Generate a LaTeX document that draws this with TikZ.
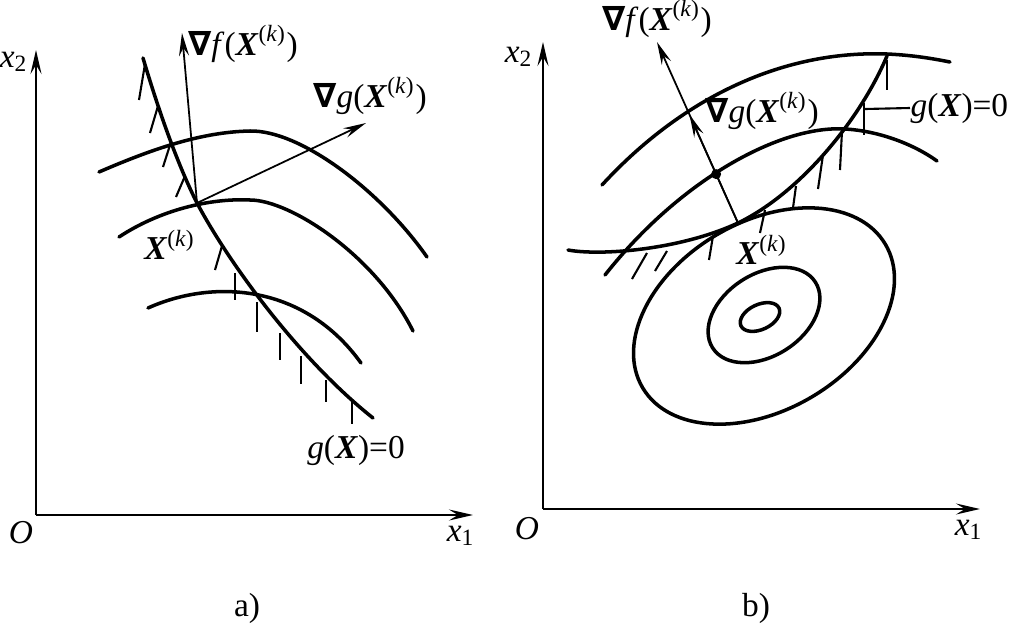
\documentclass[tikz,border=0pt]{standalone}
\usepackage{fontspec}
\setmainfont{Liberation Serif}
\newfontfamily\djv{DejaVu Sans}
\usetikzlibrary{arrows.meta,calc}
\newcommand{\Xk}{\textbf{\textit{X}}\textsuperscript{(\textit{k})}}
\newcommand{\Nab}{{\djv\bfseries ∇}}
\begin{document}
\begin{tikzpicture}[x=0.01cm,y=-0.01cm,
  axis/.style={line width=0.6pt,-{Stealth[length=2.4mm,width=1.1mm,inset=0.9mm]}},
  thickc/.style={line width=1pt,line cap=round},
  hatchl/.style={line width=0.6pt},
  garrow/.style={line width=0.5pt,-{Stealth[length=2.3mm,width=1.0mm,inset=0.8mm]}},
  lbl/.style={inner sep=0pt,font=\fontsize{9.5}{11}\selectfont}]
\useasboundingbox (0,0) rectangle (1011,624);
% ---------------- panel a ----------------
\coordinate (Oa) at (36,515);
\coordinate (xa) at (473,515);
\coordinate (ya) at (36,50);
\draw[axis] (Oa) -- (xa);
\draw[axis] (Oa) -- (ya);
\node[lbl] (Olbla) at (21,533) {\textit{O}};
\node[lbl] (x1a) at (461,536) {\textit{x}\textsubscript{1}};
\node[lbl] (x2a) at (14,62) {\textit{x}\textsubscript{2}};
\node[lbl] (capa) at (247,608) {a)};
% level curves
\draw[thickc] (99,172) .. controls (150,150) and (200,132) .. (250,131)
  .. controls (300,130) and (380,190) .. (427,257);
\draw[thickc] (119,237) .. controls (160,210) and (210,198) .. (250,200)
  .. controls (290,200) and (375,255) .. (413,331);
\draw[thickc] (148,308) .. controls (215,278) and (305,285) .. (361,363);
% constraint
\draw[thickc] (143,58) .. controls (160,115) and (178,165) .. (197,203)
  .. controls (230,265) and (300,360) .. (373,418);
% hatches
\foreach \a/\b in {{(145,64)}/{(139,100)},{(158,106)}/{(150,133)},{(171,142)}/{(163,167)},{(185,176)}/{(176,197)},{(222,246)}/{(215,270)},
  {(235,273)}/{(235,300)},{(257,302)}/{(257,332)},{(280,333)}/{(280,360)},{(301,356)}/{(301,384)},{(326,380)}/{(326,402)},{(352,401)}/{(352,424)}}
  \draw[hatchl] \a -- \b;
% gradients
\coordinate (Xka) at (197,203);
\coordinate (fta) at (182,33);
\coordinate (gta) at (366,123);
\draw[garrow] (Xka) -- (fta);
\draw[garrow] (Xka) -- (gta);
\node[lbl] (flbla) at (243,44) {\Nab\textit{f}(\Xk)};
\node[lbl] (glbla) at (370,96) {\Nab\textit{g}(\Xk)};
\node[lbl] (Xlbla) at (170,245) {\Xk};
\node[lbl] (gXa) at (356,450) {\textit{g}(\textbf{\textit{X}})=0};
% ---------------- panel b ----------------
\coordinate (Ob) at (543,509);
\coordinate (xb) at (980,509);
\coordinate (yb) at (543,42);
\draw[axis] (Ob) -- (xb);
\draw[axis] (Ob) -- (yb);
\node[lbl] (Olblb) at (527,529) {\textit{O}};
\node[lbl] (x1b) at (969,530) {\textit{x}\textsubscript{1}};
\node[lbl] (x2b) at (519,57) {\textit{x}\textsubscript{2}};
\node[lbl] (capb) at (756,608) {b)};
% ellipses
\draw[thickc,rotate around={30.6:(764,316)}] (764,316) ellipse [x radius=141,y radius=94];
\draw[thickc,rotate around={32.7:(764,315)}] (764,315) ellipse [x radius=61,y radius=41];
\draw[thickc,rotate around={25:(760,317)}] (760,317) ellipse [x radius=21,y radius=12.5];
% level arcs
\draw[thickc] (602,185) .. controls (680,100) and (780,50) .. (887,54)
  .. controls (910,55) and (930,58) .. (950,62);
\draw[thickc] (605,275) .. controls (680,180) and (780,125) .. (845,129)
  .. controls (880,131) and (915,145) .. (937,161);
% constraint
\coordinate (Xkb) at (738,223);
\draw[thickc] (568,250) .. controls (600,256) and (680,250) .. (Xkb)
  .. controls (800,193) and (860,120) .. (887,56);
\foreach \a/\b in {{(647,253)}/{(632,279)},{(667,251)}/{(655,271)},{(713,236)}/{(709,260)},{(765,210)}/{(760,233)},{(796,186)}/{(793,208)},
  {(823,155)}/{(818,189)},{(842,131)}/{(840,170)},{(864,103)}/{(864,135)},{(887,60)}/{(887,90)}}
  \draw[hatchl] \a -- \b;
% gradients
\coordinate (ftb) at (657,42);
\draw[garrow] (Xkb) -- (ftb);
\draw[garrow] (Xkb) -- ($(Xkb)!0.6!(ftb)$);
\fill ($(Xkb)!0.27!(ftb)$) circle [radius=5];
\node[lbl] (flblb) at (657,19) {\Nab\textit{f}(\Xk)};
\node[lbl] (glblb) at (762,111) {\Nab\textit{g}(\Xk)};
\node[lbl] (Xlblb) at (762,250) {\Xk};
\node[lbl,anchor=west] (gXb) at (910,108) {\textit{g}(\textbf{\textit{X}})=0};
\coordinate (ldb) at (865,109);
\draw[hatchl] (ldb) -- (gXb.west);
\end{tikzpicture}
\end{document}
